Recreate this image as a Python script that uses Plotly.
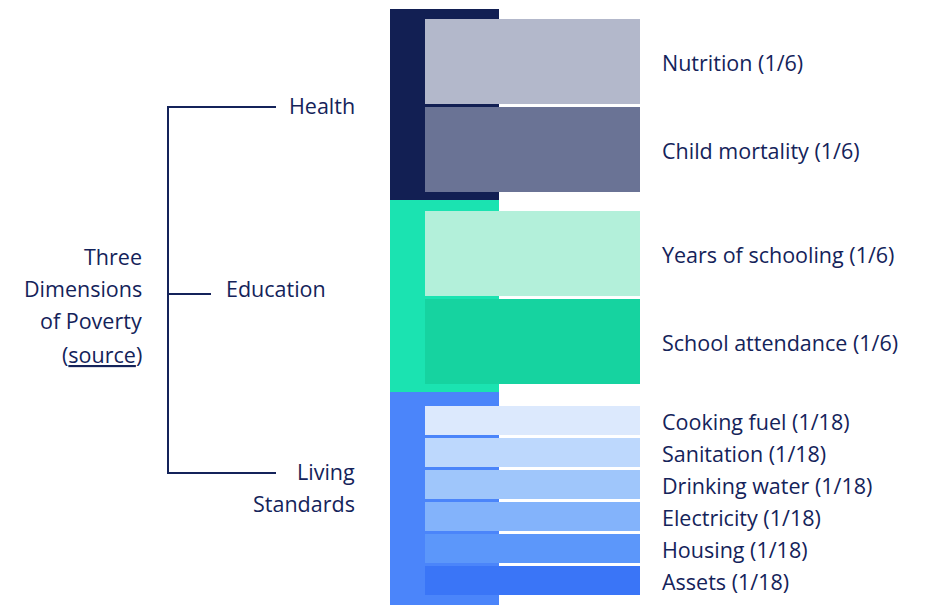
import plotly.graph_objects as go

# ---------------- data ----------------
dimensions = ["Health", "Education", "Living Standards"]
dimension_weights = [1/3, 1/3, 1/3]
indicators = ["Nutrition", "Child mortality", "Years of schooling", "School attendance",
              "Cooking fuel", "Sanitation", "Drinking water", "Electricity", "Housing", "Assets"]
indicator_dimension = [0, 0, 1, 1, 2, 2, 2, 2, 2, 2]
indicator_weights = [1/6, 1/6, 1/6, 1/6, 1/18, 1/18, 1/18, 1/18, 1/18, 1/18]
weight_labels = ["1/6", "1/6", "1/6", "1/6", "1/18", "1/18", "1/18", "1/18", "1/18", "1/18"]
title_lines = ["Three", "Dimensions", "of Poverty", "(<u>source</u>)"]

# ---------------- style ----------------
NAVY = "#14235A"
FONT = "Open Sans"
FS = 21.5
dim_colors = ["#121F53", "#1BE3B1", "#4B85FA"]
ind_colors = ["#B3B8CB", "#6A7395", "#B3F0DA", "#16D3A0",
              "#DCE9FD", "#BDD8FD", "#9FC6FB", "#83B3FB", "#5C97FA", "#3A75F7"]

W, H = 930, 605
OFF = 8              # page body margin
SCALE = 504          # px per unit of indicator weight
BAR_EXTRA = 1
GAP = 3
TOP = 9
pad_top = [10, 11, 14]
pad_bot = [8, 8, 11]
DIM_X0, DIM_X1 = 390, 499
IND_X0, IND_X1 = 425, 640
LABEL_X = 662
TEXT_DY = 4.5
ANN_DY = -1.5

# compute layout from weights
ind_y0, ind_h = [], []
dim_y0, dim_h = [], []
y = TOP
for d in range(len(dimensions)):
    start = y
    y += pad_top[d]
    idx = [i for i, dd in enumerate(indicator_dimension) if dd == d]
    for k, i in enumerate(idx):
        h = SCALE * indicator_weights[i] + BAR_EXTRA
        ind_y0.append(y)
        ind_h.append(h)
        y += h
        if k < len(idx) - 1:
            y += GAP
    y += pad_bot[d]
    dim_y0.append(start)
    dim_h.append(y - start)

fig = go.Figure()
fig.add_trace(go.Bar(
    orientation="h",
    y=[y0 + h / 2 for y0, h in zip(dim_y0, dim_h)],
    x=[DIM_X1 - DIM_X0] * len(dimensions),
    base=[DIM_X0] * len(dimensions),
    width=dim_h,
    marker=dict(color=dim_colors, line=dict(width=0)),
    hovertext=dimensions, hoverinfo="text",
))
fig.add_trace(go.Bar(
    orientation="h",
    y=[y0 + h / 2 for y0, h in zip(ind_y0, ind_h)],
    x=[IND_X1 - IND_X0] * len(indicators),
    base=[IND_X0] * len(indicators),
    width=ind_h,
    marker=dict(color=ind_colors, line=dict(width=0)),
    hovertext=indicators, hoverinfo="text",
))
fig.add_trace(go.Scatter(
    x=[LABEL_X] * len(indicators),
    y=[y0 + h / 2 + TEXT_DY for y0, h in zip(ind_y0, ind_h)],
    mode="text",
    text=[f"{n} ({w})" for n, w in zip(indicators, weight_labels)],
    textposition="middle right",
    textfont=dict(family=FONT, size=FS, color=NAVY),
    hoverinfo="skip",
))

# tree connector
TREE_X = 168
branch_y = [107, 294, 473]
branch_x1 = [276, 211, 276]
fig.add_shape(type="line", x0=TREE_X, x1=TREE_X, y0=branch_y[0], y1=branch_y[-1],
              line=dict(color=NAVY, width=2))
for by, bx in zip(branch_y, branch_x1):
    fig.add_shape(type="line", x0=TREE_X - 1, x1=bx, y0=by, y1=by,
                  line=dict(color=NAVY, width=2))

ann = []
def txt(x, y, s, anchor):
    ann.append(dict(x=x, y=y + ANN_DY, text=s, xanchor=anchor, yanchor="middle", showarrow=False,
                    font=dict(family=FONT, size=FS, color=NAVY), xref="x", yref="y"))

txt(357, 107, dimensions[0], "right")
txt(224, 290, dimensions[1], "left")
txt(357, 473, dimensions[2].split(" ")[0], "right")
txt(357, 505, dimensions[2].split(" ")[1], "right")
for ly, s in zip([258, 290, 322, 356], title_lines):
    txt(144, ly, s, "right")

fig.update_layout(
    width=W - OFF, height=H - OFF, autosize=False,
    margin=dict(l=0, r=0, t=0, b=0),
    paper_bgcolor="white", plot_bgcolor="white",
    showlegend=False, barmode="overlay", bargap=0,
    annotations=ann,
    xaxis=dict(range=[OFF, W], visible=False, fixedrange=True),
    yaxis=dict(range=[H, OFF], visible=False, fixedrange=True),
)
fig.write_html("out.html")
